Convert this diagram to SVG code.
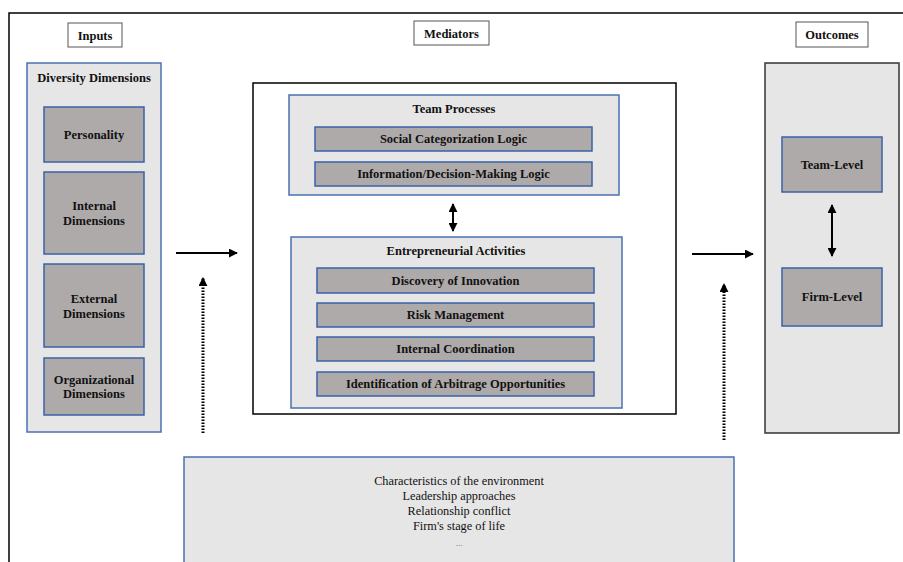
<svg xmlns="http://www.w3.org/2000/svg" width="903" height="562" viewBox="0 0 903 562">
<defs>
<style>
.lbl{fill:#fff;stroke:#555;stroke-width:1}
.panel{fill:#e6e6e6;stroke:#4a72b0;stroke-width:1.5}
.item{fill:#aeaaaa;stroke:#3a62a8;stroke-width:1.5}
.frame{fill:none;stroke:#000;stroke-width:1.5}
.t{font-family:"Liberation Serif","Times New Roman",serif;font-weight:bold;font-size:12.5px;fill:#111;text-anchor:middle}
.r{font-family:"Liberation Serif","Times New Roman",serif;font-size:12.3px;fill:#111;text-anchor:middle}
.ar{stroke:#000;stroke-width:2;fill:none}
.dot{stroke:#000;stroke-width:3;stroke-dasharray:1.6 1.4;fill:none}
</style>
<marker id="ah" viewBox="0 0 10 10" refX="9" refY="5" markerWidth="4.5" markerHeight="4.5" orient="auto-start-reverse" markerUnits="strokeWidth">
<path d="M0,0 L10,5 L0,10 z" fill="#000"/>
</marker>
<marker id="ahd" viewBox="0 0 10 10" refX="9" refY="5" markerWidth="3" markerHeight="3" orient="auto" markerUnits="strokeWidth">
<path d="M0,0 L10,5 L0,10 z" fill="#000"/>
</marker>
</defs>
<rect x="0" y="0" width="903" height="562" fill="#fff"/>
<rect id="outer-frame" class="frame" x="9" y="13" width="1000" height="600"/>

<g id="inputs-label"><rect class="lbl" x="68" y="23" width="54" height="24"/><text class="t" x="95" y="40">Inputs</text></g>
<g id="mediators-label"><rect class="lbl" x="414" y="21" width="75" height="24"/><text class="t" x="451.5" y="38">Mediators</text></g>
<g id="outcomes-label"><rect class="lbl" x="796" y="22" width="72" height="25"/><text class="t" x="832" y="39">Outcomes</text></g>

<g id="diversity-dimensions">
<rect class="panel" x="27" y="63" width="134" height="369"/>
<text class="t" x="94" y="82">Diversity Dimensions</text>
</g>
<g id="personality"><rect class="item" x="44" y="107" width="100" height="55"/><text class="t" x="94" y="139">Personality</text></g>
<g id="internal-dimensions"><rect class="item" x="44" y="172" width="100" height="82"/><text class="t" x="94" y="210">Internal</text><text class="t" x="94" y="225">Dimensions</text></g>
<g id="external-dimensions"><rect class="item" x="44" y="264" width="100" height="83"/><text class="t" x="94" y="303">External</text><text class="t" x="94" y="318">Dimensions</text></g>
<g id="organizational-dimensions"><rect class="item" x="44" y="358" width="100" height="57"/><text class="t" x="94" y="384">Organizational</text><text class="t" x="94" y="398">Dimensions</text></g>

<g id="mediators-box"><rect class="frame" x="253" y="83" width="423" height="331"/></g>
<g id="team-processes">
<rect class="panel" x="289" y="95" width="330" height="100"/>
<text class="t" x="454" y="113">Team Processes</text>
</g>
<g id="social-categorization"><rect class="item" x="315" y="127" width="277" height="24"/><text class="t" x="453.5" y="143">Social Categorization Logic</text></g>
<g id="information-decision"><rect class="item" x="315" y="162" width="277" height="24"/><text class="t" x="453.5" y="178">Information/Decision-Making Logic</text></g>

<g id="entrepreneurial-activities">
<rect class="panel" x="291" y="237" width="331" height="171"/>
<text class="t" x="456" y="255">Entrepreneurial Activities</text>
</g>
<g id="discovery"><rect class="item" x="317" y="268" width="277" height="25"/><text class="t" x="455.5" y="285">Discovery of Innovation</text></g>
<g id="risk"><rect class="item" x="317" y="303" width="277" height="24"/><text class="t" x="455.5" y="319">Risk Management</text></g>
<g id="coordination"><rect class="item" x="317" y="337" width="277" height="24"/><text class="t" x="455.5" y="353">Internal Coordination</text></g>
<g id="arbitrage"><rect class="item" x="317" y="372" width="277" height="24"/><text class="t" x="455.5" y="388">Identification of Arbitrage Opportunities</text></g>

<g id="outcomes-box"><rect x="765" y="63" width="134" height="370" fill="#e6e6e6" stroke="#333" stroke-width="1.5"/></g>
<g id="team-level"><rect class="item" x="782" y="137" width="100" height="55"/><text class="t" x="832" y="169">Team-Level</text></g>
<g id="firm-level"><rect class="item" x="782" y="268" width="100" height="58"/><text class="t" x="832" y="301">Firm-Level</text></g>

<g id="moderators">
<rect class="panel" x="184" y="457" width="550" height="120"/>
<text class="r" x="459" y="485">Characteristics of the environment</text>
<text class="r" x="459" y="500">Leadership approaches</text>
<text class="r" x="459" y="515">Relationship conflict</text>
<text class="r" x="459" y="530">Firm's stage of life</text>
<text class="r" x="459" y="546" style="font-size:9px;fill:#555">...</text>
</g>

<g id="connectors">
<line class="ar" x1="176" y1="253" x2="237" y2="253" marker-end="url(#ah)"/>
<line class="ar" x1="692" y1="254" x2="753" y2="254" marker-end="url(#ah)"/>
<line class="ar" x1="453" y1="204" x2="453" y2="231" marker-start="url(#ah)" marker-end="url(#ah)"/>
<line class="ar" x1="832" y1="205" x2="832" y2="256" marker-start="url(#ah)" marker-end="url(#ah)"/>
<line class="dot" x1="203" y1="433" x2="203" y2="278" marker-end="url(#ahd)"/>
<line class="dot" x1="724" y1="440" x2="724" y2="284" marker-end="url(#ahd)"/>
</g>
</svg>
